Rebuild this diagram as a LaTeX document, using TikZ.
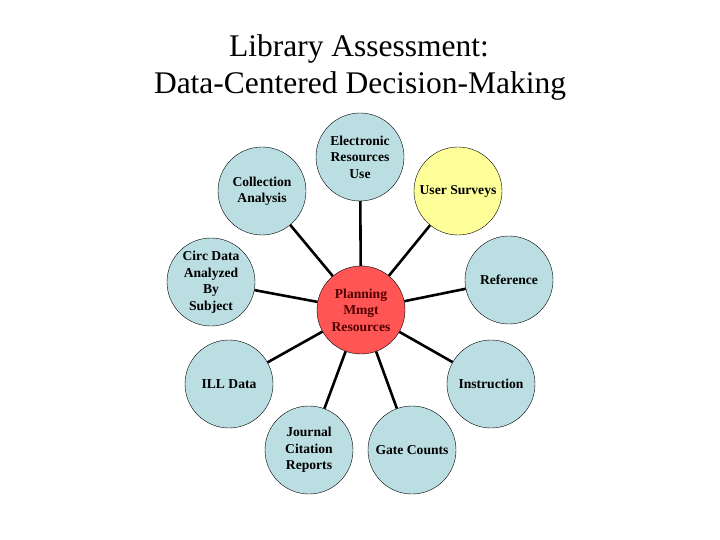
\documentclass[tikz,border=0pt]{standalone}
\usepackage{fontspec}
\setmainfont{Liberation Serif}
\definecolor{bubble}{RGB}{187,222,226}
\definecolor{hub}{RGB}{255,85,85}
\definecolor{hubtext}{RGB}{80,0,0}
\definecolor{survey}{RGB}{255,255,153}
\tikzset{
  topic/.style={circle,draw=black,thin,fill=bubble,minimum size=88pt,inner sep=0pt,
    align=center,font=\bfseries\fontsize{13.6}{16.5}\selectfont},
  spoke/.style={line width=2.6pt,black}
}
\begin{document}
\begin{tikzpicture}[x=1pt,y=-1pt]
\useasboundingbox (0,0) rectangle (720,540);
\node[font=\fontsize{31.5}{36}\selectfont] (title1) at (359,49) {Library Assessment:};
\node[font=\fontsize{31.5}{36}\selectfont] (title2) at (360,86) {Data-Centered Decision-Making};
\node[topic,fill=hub,text=hubtext] (plan) at (361,310) {Planning\\Mmgt\\Resources};
\node[topic] (eres) at (360,157) {Electronic\\Resources\\Use};
\node[topic] (coll) at (262,191) {Collection\\Analysis};
\node[topic,fill=survey] (user) at (458,191) {User Surveys};
\node[topic] (circ) at (211,282) {Circ Data\\Analyzed\\By\\Subject};
\node[topic] (ref) at (509,280) {Reference};
\node[topic] (ill) at (229,384) {ILL Data};
\node[topic] (instr) at (491,384) {Instruction};
\node[topic] (jcr) at (309,450) {Journal\\Citation\\Reports};
\node[topic] (gate) at (412,450) {Gate Counts};
\foreach \n in {eres,coll,user,circ,ref,ill,instr,jcr,gate}
  \draw[spoke] (plan) -- (\n);
\end{tikzpicture}
\end{document}
